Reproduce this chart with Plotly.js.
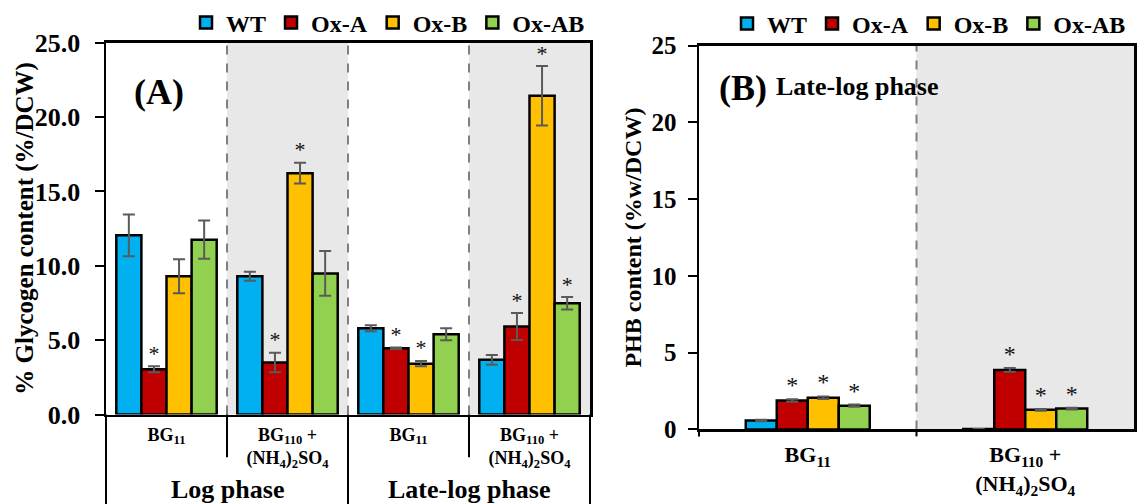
<!DOCTYPE html>
<html>
<head>
<meta charset="utf-8">
<script src="https://cdn.plot.ly/plotly-3.0.1.min.js"></script>
<style>html,body{margin:0;padding:0;background:#fff;}#chart{width:1143px;height:504px;}</style>
</head>
<body>
<div id="chart"></div>
<script>
// ---------- DATA ----------
const seriesNames = ['WT', 'Ox-A', 'Ox-B', 'Ox-AB'];
const seriesColors = ['#00B0F0', '#C00000', '#FFC000', '#92D050'];

// Panel A: glycogen content (%/DCW)
const catA = ['BG<sub>11</sub>', 'BG<sub>110</sub> +<br>(NH<sub>4</sub>)<sub>2</sub>SO<sub>4</sub>',
              'BG<sub>11</sub>', 'BG<sub>110</sub> +<br>(NH<sub>4</sub>)<sub>2</sub>SO<sub>4</sub>'];
const phasesA = ['Log phase', 'Late-log phase'];
const titleA = '% Glycogen content (%/DCW)';
const glyWT      = [12.05, 9.30, 5.80, 3.68];
const glyWTErr   = [1.40, 0.30, 0.20, 0.33];
const glyOxA     = [3.05, 3.50, 4.46, 5.92];
const glyOxAErr  = [0.20, 0.65, 0.05, 0.90];
const glyOxB     = [9.30, 16.23, 3.42, 21.43];
const glyOxBErr  = [1.15, 0.70, 0.18, 2.00];
const glyOxAB    = [11.76, 9.49, 5.40, 7.48];
const glyOxABErr = [1.28, 1.50, 0.40, 0.42];
const glySig = [[0,0,0,0],[1,1,1,1],[0,1,1,1],[0,0,0,1]];

// Panel B: PHB content (%w/DCW), late-log phase
const catB = ['BG<sub>11</sub>', 'BG<sub>110</sub> +<br>(NH<sub>4</sub>)<sub>2</sub>SO<sub>4</sub>'];
const titleB = 'PHB content (%w/DCW)';
const phbWT      = [0.58, 0.03];
const phbWTErr   = [0.05, 0.00];
const phbOxA     = [1.88, 3.88];
const phbOxAErr  = [0.08, 0.12];
const phbOxB     = [2.07, 1.28];
const phbOxBErr  = [0.08, 0.06];
const phbOxAB    = [1.55, 1.36];
const phbOxABErr = [0.07, 0.06];
const phbSig = [[0,0],[1,1],[1,1],[1,1]];

// ---------- BUILD ----------
const FONT = 'Liberation Serif, Times New Roman, serif';
const glyVals = [glyWT, glyOxA, glyOxB, glyOxAB];
const glyErrs = [glyWTErr, glyOxAErr, glyOxBErr, glyOxABErr];
const phbVals = [phbWT, phbOxA, phbOxB, phbOxAB];
const phbErrs = [phbWTErr, phbOxAErr, phbOxBErr, phbOxABErr];

function panelTraces(vals, errs, sig, xa, ya, legendName, groupFrac, starSize) {
  const n = vals.length;
  const w = groupFrac / n;
  const traces = [];
  const sx = [], sy = [], st = [];
  vals.forEach((v, j) => {
    const xs = v.map((_, i) => i);
    const off = -groupFrac / 2 + j * w;
    traces.push({
      type: 'bar', name: seriesNames[j], x: xs, y: v,
      xaxis: xa, yaxis: ya, legend: legendName,
      width: w, offset: off,
      marker: {color: seriesColors[j], line: {color: '#000', width: 2.5}},
      error_y: {type: 'data', array: errs[j], visible: true, color: '#5a5a5a', thickness: 2, width: 6},
      hoverinfo: 'y'
    });
    v.forEach((val, i) => {
      if (sig[j][i]) {
        sx.push(i + off + w / 2);
        sy.push(val + errs[j][i]);
        st.push('*');
      }
    });
  });
  traces.push({
    type: 'scatter', mode: 'text', x: sx, y: sy, text: st,
    textposition: 'top center', xaxis: xa, yaxis: ya, showlegend: false,
    textfont: {family: FONT, size: starSize, color: '#111111'}, hoverinfo: 'skip', cliponaxis: false
  });
  return traces;
}

const data = [].concat(
  panelTraces(glyVals, glyErrs, glySig, 'x', 'y', 'legend', 0.83, 22),
  panelTraces(phbVals, phbErrs, phbSig, 'x2', 'y2', 'legend2', 0.57, 24)
);

const W = 1143, H = 504;
// plot boxes (px)
const A = {l: 106, r: 590, t: 40, b: 414};
const B = {l: 699, r: 1134, t: 43, b: 429};

const shapes = [];
// shaded groups
[1, 3].forEach(i => shapes.push({type: 'rect', xref: 'x', yref: 'y domain', x0: i - 0.5, x1: i + 0.5, y0: 0, y1: 1,
  fillcolor: '#e8e8e8', line: {width: 0}, layer: 'below'}));
shapes.push({type: 'rect', xref: 'x2', yref: 'y2 domain', x0: 0.5, x1: 1.5, y0: 0, y1: 1,
  fillcolor: '#e8e8e8', line: {width: 0}, layer: 'below'});
// dashed separators
[0.5, 1.5, 2.5].forEach(x => shapes.push({type: 'line', xref: 'x', yref: 'y domain', x0: x, x1: x, y0: 0, y1: 1,
  line: {color: '#808080', width: 2, dash: 'dash'}, layer: 'below'}));
shapes.push({type: 'line', xref: 'x2', yref: 'y2 domain', x0: 0.5, x1: 0.5, y0: 0, y1: 1,
  line: {color: '#808080', width: 2, dash: 'dash'}, layer: 'below'});
// separators below the axis (panel A)
const hA = A.b - A.t;
const longA = -(H - A.b) / hA, shortA = -43 / hA;
[[0, longA], [0.25, shortA], [0.5, longA], [0.75, shortA], [1, longA]].forEach(([x, y1]) =>
  shapes.push({type: 'line', xref: 'x domain', yref: 'y domain', x0: x, x1: x, y0: 0, y1: y1,
    line: {color: '#000', width: 2}}));
// short ticks below axis (panel B)
const hB = B.b - B.t;
[0, 0.5].forEach(x => shapes.push({type: 'line', xref: 'x2 domain', yref: 'y2 domain', x0: x, x1: x, y0: 0, y1: -7 / hB,
  line: {color: '#000', width: 2}}));

const annotations = [];
const ann = (text, x, y, size, xref, angle) => ({text: text, xref: xref || 'paper', yref: 'paper', x: x, y: y,
  showarrow: false, xanchor: 'center', yanchor: 'middle', textangle: angle || 0,
  font: {family: FONT, size: size, color: '#000', weight: 700}});
phasesA.forEach((p, k) => annotations.push(ann(p, 0.25 + 0.5 * k, (H - 489) / H, 26, 'x domain')));
annotations.push(ann('(A)', 159 / W, (H - 90) / H, 36));
annotations.push(ann('(B)', 743 / W, (H - 86) / H, 36));
annotations.push(ann('Late-log phase', 857 / W, (H - 84) / H, 26));
annotations.push(ann(titleA, 25 / W, 0.5, 25, 'paper', -90));
annotations[annotations.length - 1].y = (H - (A.t + A.b) / 2) / H;

const axisBase = {showgrid: false, zeroline: false, showline: true, linecolor: '#000', mirror: true, automargin: false};
const boldFont = (s) => ({family: FONT, size: s, color: '#000', weight: 700});

const layout = {
  width: W, height: H,
  margin: {l: 0, r: 0, t: 0, b: 0},
  paper_bgcolor: '#fff', plot_bgcolor: '#fff',
  barmode: 'group',
  showlegend: true,
  xaxis: Object.assign({}, axisBase, {domain: [A.l / W, A.r / W], range: [-0.5, 3.5], tickvals: [0, 1, 2, 3],
    ticktext: catA, ticks: '', linewidth: 2.5, tickfont: boldFont(18), anchor: 'y', ticklabelstandoff: 2}),
  yaxis: Object.assign({}, axisBase, {domain: [(H - A.b) / H, (H - A.t) / H], range: [0, 25], dtick: 5, tickformat: '.1f',
    ticks: 'outside', ticklen: 9, tickwidth: 2, tickcolor: '#000', linewidth: 2.5, tickfont: boldFont(26), anchor: 'x',
    ticklabelstandoff: 9}),
  xaxis2: Object.assign({}, axisBase, {domain: [B.l / W, B.r / W], range: [-0.5, 1.5], tickvals: [0, 1],
    ticktext: catB, ticks: '', linewidth: 2.5, tickfont: boldFont(22), anchor: 'y2', ticklabelstandoff: 4}),
  yaxis2: Object.assign({}, axisBase, {domain: [(H - B.b) / H, (H - B.t) / H], range: [0, 25], dtick: 5,
    ticks: 'outside', ticklen: 9, tickwidth: 2, tickcolor: '#000', linewidth: 2.5, tickfont: boldFont(25), anchor: 'x2',
    ticklabelstandoff: 6,
    title: {text: titleB, font: boldFont(24), standoff: 3}}),
  legend: {orientation: 'h', x: 186 / W, xanchor: 'left', y: (H - 20) / H, yanchor: 'middle',
    font: boldFont(24), bgcolor: 'rgba(0,0,0,0)', itemclick: false, itemdoubleclick: false},
  legend2: {orientation: 'h', x: 727 / W, xanchor: 'left', y: (H - 21) / H, yanchor: 'middle',
    font: boldFont(24), bgcolor: 'rgba(0,0,0,0)', itemclick: false, itemdoubleclick: false},
  shapes: shapes,
  annotations: annotations
};

Plotly.newPlot('chart', data, layout, {displayModeBar: false, staticPlot: true});
</script>
</body>
</html>
